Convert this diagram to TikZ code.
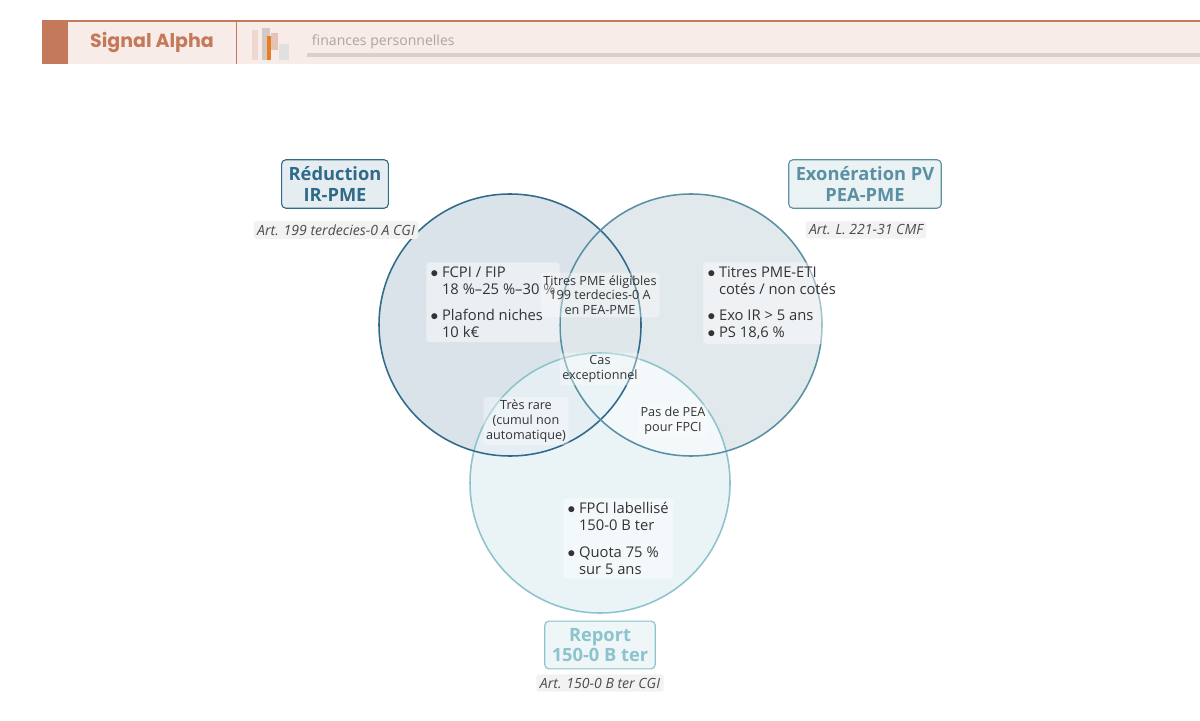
\documentclass[tikz,border=0pt]{standalone}
\usepackage{fontspec}
\setmainfont{Open Sans}
\newfontfamily\brandfont{Poppins}
\usetikzlibrary{positioning}
\definecolor{terra}{HTML}{C47A5A}
\definecolor{bandbg}{HTML}{F7ECE7}
\definecolor{setA}{HTML}{2F6A8A}
\definecolor{setB}{HTML}{5A90A3}
\definecolor{setC}{HTML}{8CC3CC}
\definecolor{fillA}{HTML}{DAE3EA}
\definecolor{fillB}{HTML}{E2E9EC}
\definecolor{fillC}{HTML}{EAF4F7}
\definecolor{fillAC}{HTML}{E4EEF3}
\definecolor{inktxt}{HTML}{333333}
\begin{document}
\begin{tikzpicture}[x=0.025cm,y=-0.025cm,
    every node/.style={align=center, text=inktxt, font=\fontsize{10.5}{12.5}\selectfont},
    setcircle/.style={line width=1.1pt},
    title/.style={draw, rounded corners=3pt, line width=0.8pt, inner sep=5pt, font=\fontsize{13}{14.5}\selectfont\bfseries},
    ref/.style={fill=black!5, rounded corners=2pt, inner sep=2.5pt, text=black!70, font=\fontsize{10}{12}\selectfont\itshape},
    items/.style={fill=white, fill opacity=0.45, text opacity=1, rounded corners=2pt, align=left, inner sep=3pt, font=\fontsize{10.5}{12}\selectfont},
    zone/.style={fill=white, fill opacity=0.35, text opacity=1, rounded corners=2pt, inner sep=2pt, font=\fontsize{9}{10.5}\selectfont}
  ]
  \useasboundingbox (0,0) rectangle (1200,721);
  % bandeau
  \fill[bandbg] (68,21) rectangle (1200,64);
  \fill[terra] (42,21) rectangle (68,64);
  \draw[terra, line width=0.8pt] (42,21) -- (1200,21);
  \draw[terra, line width=0.6pt] (236,21) -- (236,64);
  \node[text=terra, font=\brandfont\fontsize{13.5}{15}\selectfont\bfseries] (brand) at (152,43) {Signal Alpha};
  \fill[terra!30] (252,30) rectangle (258,60);
  \fill[black!15!bandbg] (262,28) rectangle (270,60);
  \fill[orange!60!terra] (267,36) rectangle (271,60);
  \fill[terra!45] (271,33) rectangle (278,50);
  \fill[black!12] (279,44) rectangle (289,60);
  \node[text=black!30!bandbg, font=\fontsize{10}{12}\selectfont, anchor=west] (tagline) at (307,42) {finances personnelles};
  \fill[black!12!bandbg] (307,53) rectangle (1200,57);
  % ensembles
  \fill[fillB] (691,325) circle (131);
  \fill[fillA] (510,325) circle (131);
  \begin{scope}
    \clip (510,325) circle (131);
    \fill[fillB!60!fillA] (691,325) circle (131);
  \end{scope}
  \fill[fillC] (600,483) circle (130);
  \begin{scope}
    \clip (600,483) circle (130);
    \fill[fillAC] (510,325) circle (131);
    \fill[fillC!60!white] (691,325) circle (131);
    \clip (510,325) circle (131);
    \fill[fillC] (691,325) circle (131);
  \end{scope}
  \draw[setcircle, draw=setC] (600,483) circle (130);
  \draw[setcircle, draw=setA] (510,325) circle (131);
  \draw[setcircle, draw=setB] (691,325) circle (131);
  % titres
  \node[title, draw=setA, fill=setA!12, text=setA] (titleA) at (335,184) {Réduction\\IR-PME};
  \node[ref] (refA) at (336,230) {Art. 199 terdecies-0 A CGI};
  \node[title, draw=setB, fill=setB!12, text=setB] (titleB) at (865,184) {Exonération PV\\PEA-PME};
  \node[ref] (refB) at (866,230) {Art. L. 221-31 CMF};
  \node[title, draw=setC, fill=setC!15, text=setC] (titleC) at (600,645) {Report\\150-0 B ter};
  \node[ref] (refC) at (600,683) {Art. 150-0 B ter CGI};
  % contenus
  \node[items, anchor=north west] (itemsA) at (426,262) {$\bullet$ FCPI / FIP\\\phantom{$\bullet$} 18 \%–25 \%–30 \%\\[7pt]$\bullet$ Plafond niches\\\phantom{$\bullet$} 10 k€};
  \node[items, anchor=north west] (itemsB) at (703,262) {$\bullet$ Titres PME-ETI\\\phantom{$\bullet$} cotés / non cotés\\[7pt]$\bullet$ Exo IR > 5 ans\\$\bullet$ PS 18,6 \%};
  \node[items, anchor=north west] (itemsC) at (563,498) {$\bullet$ FPCI labellisé\\\phantom{$\bullet$} 150-0 B ter\\[7pt]$\bullet$ Quota 75 \%\\\phantom{$\bullet$} sur 5 ans};
  \node[zone] (zoneAB) at (600,295) {Titres PME éligibles\\199 terdecies-0 A\\en PEA-PME};
  \node[zone] (zoneABC) at (600,369) {Cas\\exceptionnel};
  \node[zone] (zoneAC) at (526,421) {Très rare\\(cumul non\\automatique)};
  \node[zone] (zoneBC) at (673,421) {Pas de PEA\\pour FPCI};
\end{tikzpicture}
\end{document}
